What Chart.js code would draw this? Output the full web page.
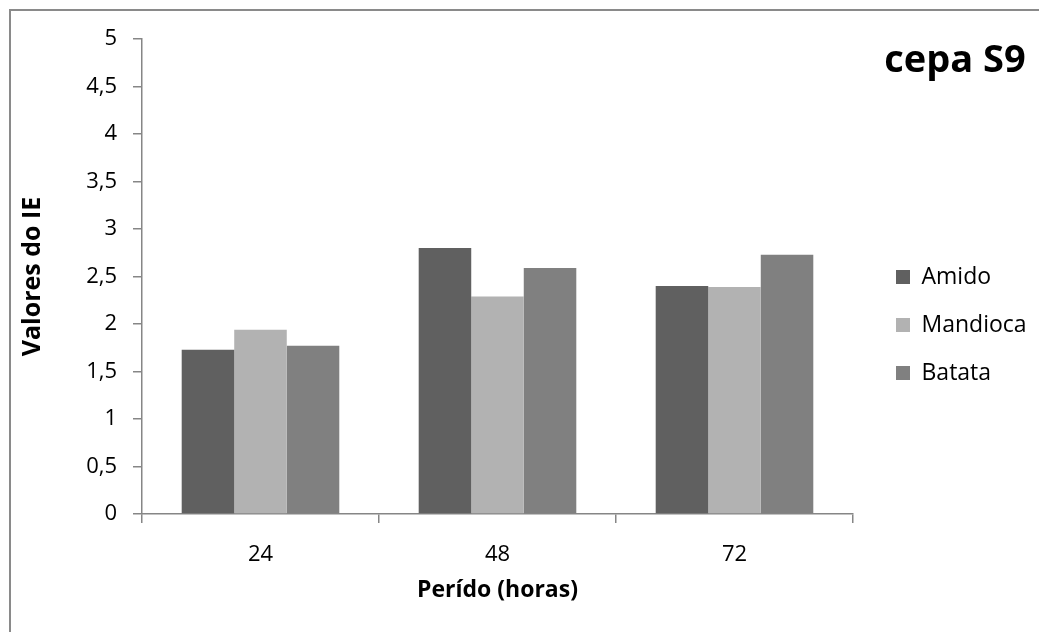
<!DOCTYPE html>
<html>
<head>
<meta charset="utf-8">
<script src="https://cdn.jsdelivr.net/npm/chart.js@4.4.1/dist/chart.umd.min.js"></script>
<style>
  html, body { margin: 0; padding: 0; background: #ffffff; }
  #wrap { width: 1039px; height: 632px; }
</style>
</head>
<body>
<div id="wrap"><canvas id="c" width="1039" height="632"></canvas></div>
<script>
// Período (horas)
const categories = ['24', '48', '72'];

// Valores do IE por substrato
const amido    = [1.73, 2.80, 2.40];
const mandioca = [1.94, 2.29, 2.39];
const batata   = [1.77, 2.59, 2.73];

const seriesNames = ['Amido', 'Mandioca', 'Batata'];

// Rótulos do eixo Y (vírgula decimal)
const yTickLabels = ['0', '0,5', '1', '1,5', '2', '2,5', '3', '3,5', '4', '4,5', '5'];

const chartTitle = 'cepa S9';
const yTitle = 'Valores do IE';
const xTitle = 'Perído (horas)';

const FONT = "'Open Sans', 'DejaVu Sans', sans-serif";
const AXIS_GREY = '#868686';
const LEGEND_WIDTH = 168;

// Moldura cinza, título no canto superior direito e largura fixa da legenda
const framePlugin = {
  id: 'frame',
  afterInit(chart) {
    const legend = chart.legend;
    if (legend) {
      const fit = legend.fit.bind(legend);
      legend.fit = function () {
        fit();
        this.width = LEGEND_WIDTH;
      };
    }
  },
  beforeDraw(chart) {
    const ctx = chart.ctx;
    ctx.save();
    ctx.fillStyle = '#ffffff';
    ctx.fillRect(0, 0, chart.width, chart.height);
    ctx.strokeStyle = '#8a8a8a';
    ctx.lineWidth = 2;
    ctx.strokeRect(10, 10, chart.width + 50, chart.height + 50);
    ctx.restore();
  },
  afterDraw(chart) {
    const ctx = chart.ctx;
    ctx.save();
    ctx.fillStyle = '#000000';
    ctx.font = "bold 38px " + FONT;
    ctx.textAlign = 'center';
    ctx.textBaseline = 'alphabetic';
    ctx.fillText(chartTitle, 955, 72);
    ctx.restore();
  }
};

new Chart(document.getElementById('c'), {
  type: 'bar',
  data: {
    labels: categories,
    datasets: [
      { label: seriesNames[0], data: amido,    backgroundColor: '#606060' },
      { label: seriesNames[1], data: mandioca, backgroundColor: '#b2b2b2' },
      { label: seriesNames[2], data: batata,   backgroundColor: '#808080' }
    ]
  },
  options: {
    responsive: false,
    animation: false,
    layout: { padding: { left: 10, top: 39, right: 0, bottom: 21 } },
    datasets: {
      bar: { categoryPercentage: 0.665, barPercentage: 1.0, borderWidth: 0 }
    },
    plugins: {
      title: { display: false },
      tooltip: { enabled: false },
      legend: {
        display: true,
        position: 'right',
        align: 'center',
        labels: {
          boxWidth: 14,
          boxHeight: 14,
          padding: 25,
          color: '#000000',
          font: { family: FONT, size: 23 }
        }
      }
    },
    scales: {
      x: {
        grid: {
          display: true,
          drawOnChartArea: false,
          offset: true,
          tickLength: 9,
          color: AXIS_GREY,
          lineWidth: 1.5
        },
        border: { display: true, color: AXIS_GREY, width: 1.5 },
        ticks: {
          color: '#000000',
          padding: 19,
          font: { family: FONT, size: 22 }
        },
        title: {
          display: true,
          text: xTitle,
          color: '#000000',
          font: { family: FONT, size: 23, weight: 'bold' },
          padding: { top: 0, bottom: 7 }
        },
        afterFit(scale) { scale.height = 97; }
      },
      y: {
        min: 0,
        max: 5,
        grid: {
          display: true,
          drawOnChartArea: false,
          tickLength: 9,
          color: AXIS_GREY,
          lineWidth: 1.5
        },
        border: { display: true, color: AXIS_GREY, width: 1.5 },
        ticks: {
          stepSize: 0.5,
          color: '#000000',
          padding: 16,
          font: { family: FONT, size: 22 },
          callback: (value) => yTickLabels[Math.round(value * 2)]
        },
        title: {
          display: true,
          text: yTitle,
          color: '#000000',
          font: { family: FONT, size: 25, weight: 'bold' },
          padding: { top: 8, bottom: 0 }
        },
        afterFit(scale) { scale.width = 132; }
      },
      spacer: {
        type: 'linear',
        position: 'right',
        display: true,
        grid: { display: false },
        border: { display: false },
        ticks: { display: false },
        afterFit(scale) { scale.width = 18; }
      }
    }
  },
  plugins: [framePlugin]
});
</script>
</body>
</html>
